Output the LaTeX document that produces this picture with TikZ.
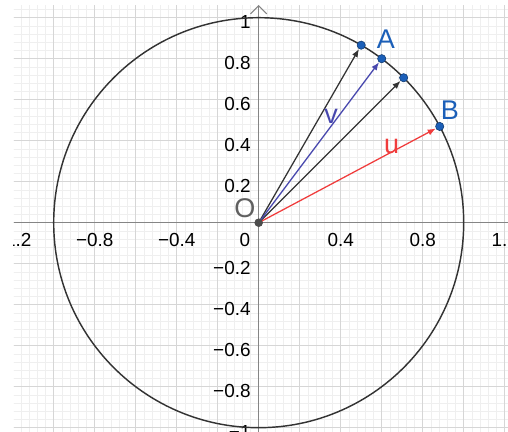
\documentclass[tikz,border=0pt]{standalone}
\usepackage{fontspec}
\setmainfont{Liberation Sans}
\usetikzlibrary{
    calc,
    arrows.meta
}
\definecolor{GridMinor}{HTML}{EFEFEF}
\definecolor{GridMajor}{HTML}{D6D6D6}
\definecolor{AxisGray}{HTML}{858585}
\definecolor{CircleGray}{HTML}{333333}
\definecolor{PointBlue}{HTML}{1B5FB8}
\definecolor{VecBlue}{HTML}{4848AE}
\definecolor{VecRed}{HTML}{F03C3C}
\definecolor{OGray}{HTML}{606060}

\begin{document}
\begin{tikzpicture}[
    x=4cm, y=4cm,
    vec/.style={line width=0.7pt, -{Latex[length=4.5pt,width=3.5pt]}},
    pt/.style={circle, fill=PointBlue, draw=PointBlue!60!black,
        line width=0.3pt, inner sep=0pt, minimum size=4.6pt},
    tick/.style={font=\fontsize{10.5}{10.5}\selectfont, inner sep=0pt},
    lbl/.style={font=\fontsize{15}{15}\selectfont, inner sep=0pt}
]
    \useasboundingbox (-1.262,-1.021) rectangle (1.2161,1.0863);
    \fill[white] (-1.262,-1.021) rectangle (1.2161,1.0863);
    \clip (-1.194,-1.03) rectangle (1.25,1.062);
    \draw[GridMinor, line width=0.4pt, step=0.04] (-1.2,-1.04) grid (1.25,1.062);
    \draw[GridMajor, line width=0.5pt, step=0.2] (-1.2,-1.04) grid (1.25,1.062);
    \draw[AxisGray, line width=0.6pt] (-1.2,0) -- (1.25,0);
    \draw[AxisGray, line width=0.6pt, -{Straight Barb[length=4.5pt,width=9pt]}]
        (0,-1.04) -- (0,1.062);

    \foreach \xv/\xt in {-1.2/−1.2, -0.8/−0.8, -0.4/−0.4, 0.4/0.4, 0.8/0.8, 1.2/1.2}
        \node[tick] at (\xv,-0.085) {\xt};
    \node[tick] (zero) at (-0.067,-0.085) {0};
    \foreach \yv/\yt in {1/1, 0.8/0.8, 0.6/0.6, 0.4/0.4, 0.2/0.2,
        -0.2/−0.2, -0.4/−0.4, -0.6/−0.6, -0.8/−0.8, -1/−1}
        \node[tick, anchor=east] at (-0.038,\yv-0.022) {\yt};

    \draw[CircleGray, line width=0.8pt] (0,0) circle[radius=1];

    \node[circle, fill=OGray!80!black, inner sep=0pt, minimum size=4.6pt] (O) at (0,0) {};
    \node[pt] (P) at (60:1) {};
    \node[pt] (A) at (0.6,0.8) {};
    \node[pt] (Q) at (45:1) {};
    \node[pt] (B) at (28:1) {};

    \draw[vec, CircleGray] (O.center) -- (P);
    \draw[vec, CircleGray] (O.center) -- (Q);
    \draw[vec, VecBlue] (O.center) -- (A);
    \draw[vec, VecRed] (O.center) -- (B);
    \node[circle, fill=OGray!80!black, inner sep=0pt, minimum size=4.6pt] at (O) {};

    \node[lbl, text=PointBlue] (labA) at (0.621,0.895) {A};
    \node[lbl, text=PointBlue] (labB) at (0.933,0.550) {B};
    \node[lbl, text=OGray] (labO) at (-0.067,0.072) {O};
    \node[lbl, text=VecBlue] (labv) at (0.353,0.517) {v};
    \node[lbl, text=VecRed] (labu) at (0.649,0.371) {u};
\end{tikzpicture}
\end{document}
